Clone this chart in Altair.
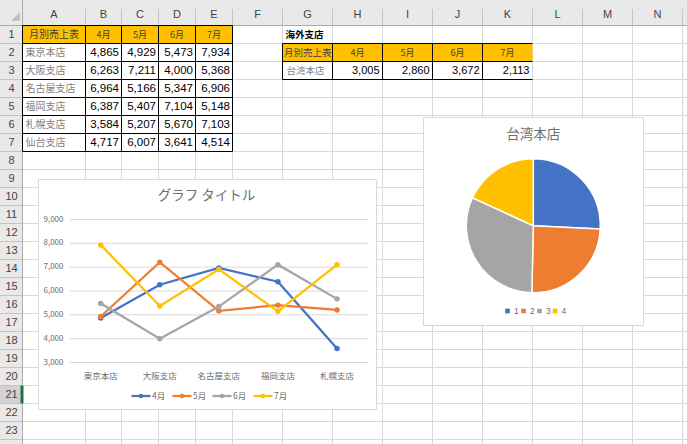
import altair as alt
import pandas as pd

# ---------------- data ----------------
col_letters = ["A", "B", "C", "D", "E", "F", "G", "H", "I", "J", "K", "L", "M", "N"]
table_title = "月別売上表"
months = ["4月", "5月", "6月", "7月"]
stores = ["東京本店", "大阪支店", "名古屋支店", "福岡支店", "札幌支店", "仙台支店"]
sales_apr = [4865, 6263, 6964, 6387, 3584, 4717]
sales_may = [4929, 7211, 5166, 5407, 5207, 6007]
sales_jun = [5473, 4000, 5347, 7104, 5670, 3641]
sales_jul = [7934, 5368, 6906, 5148, 7103, 4514]
overseas_title = "海外支店"
taiwan_store = "台湾本店"
taiwan_sales = [3005, 2860, 3672, 2113]
pie_labels = ["1", "2", "3", "4"]
line_title = "グラフ タイトル"
chart_stores = stores[:5]
y_ticks = [3000, 4000, 5000, 6000, 7000, 8000, 9000]
series_colors = ["#4472C4", "#ED7D31", "#A5A5A5", "#FFC000"]
series_values = [sales_apr, sales_may, sales_jun, sales_jul]

# ---------------- layout (pixels) ----------------
W, H = 687, 444
COL_X = [0, 22.5, 85.5, 121.5, 158.5, 195.5, 232.5, 282.5, 332.5, 382.5,
         432.5, 482.5, 532.5, 582.5, 632.5, 682.5]
HDR_H = 25.5
ROW_H = 18.0
N_ROWS = 24
FONT = "Noto Sans CJK JP"
GRID = "#D9D9D9"
HDR_BG = "#E9E9E9"
ORANGE = "#FFC000"
CHART_TEXT = "#6E6E6E"


def ry(r):
    return HDR_H + (r - 1) * ROW_H


def cl(c):
    return COL_X[c + 1]


def cr(c):
    return COL_X[c + 2]


def xq(f):
    return alt.X(f"{f}:Q", scale=None, axis=None)


def yq(f):
    return alt.Y(f"{f}:Q", scale=None, axis=None)


def rules(rows, **kw):
    df = pd.DataFrame(rows, columns=["x", "y", "x2", "y2"])
    return alt.Chart(df).mark_rule(**kw).encode(x=xq("x"), y=yq("y"), x2="x2:Q", y2="y2:Q")


def rects(rows, **kw):
    df = pd.DataFrame(rows, columns=["x", "y", "x2", "y2"])
    return alt.Chart(df).mark_rect(**kw).encode(x=xq("x"), y=yq("y"), x2="x2:Q", y2="y2:Q")


def texts(rows, **kw):
    df = pd.DataFrame(rows, columns=["x", "y", "t"])
    kw.setdefault("font", FONT)
    kw.setdefault("baseline", "middle")
    return alt.Chart(df).mark_text(**kw).encode(x=xq("x"), y=yq("y"), text="t:N")


layers = []

# ---- sheet background / headers ----
layers.append(rects([[0, 0, W, HDR_H], [0, HDR_H, COL_X[1], H]], color=HDR_BG))
layers.append(rects([[0, ry(21), COL_X[1], ry(22)]], color="#D2D2D2"))
# cell grid
vg = [[x, HDR_H, x, H] for x in COL_X[2:]]
hg = [[COL_X[1], ry(r), W, ry(r)] for r in range(2, N_ROWS + 1)]
layers.append(rules(vg + hg, color=GRID, strokeWidth=1))
# header separators
hs = [[x, 9, x, HDR_H] for x in COL_X[2:]]
rs = [[0, ry(r), COL_X[1], ry(r)] for r in range(2, N_ROWS + 1)]
layers.append(rules(hs + rs, color="#C4C4C4", strokeWidth=1))
layers.append(rules([[0, HDR_H, W, HDR_H], [COL_X[1], 0, COL_X[1], H]], color="#ABABAB", strokeWidth=1))
layers.append(rects([[20.5, ry(21), 23.5, ry(22)]], color="#217346"))
# corner triangle
layers.append(
    alt.Chart(pd.DataFrame({"x": [15.5], "y": [16.5]}))
    .mark_point(shape="M 1 -1 L 1 1 L -1 1 Z", filled=True, color="#BDBDBD", size=70, opacity=1)
    .encode(x=xq("x"), y=yq("y"))
)
# column letters & row numbers
layers.append(texts([[(cl(i) + cr(i)) / 2, 15, L] for i, L in enumerate(col_letters)],
                    fontSize=11, color="#444444", align="center", font="Liberation Sans"))
layers.append(texts([[11.5, ry(r) + 9.5, str(r)] for r in range(1, N_ROWS)],
                    fontSize=11, color="#444444", align="center", font="Liberation Sans"))

# ---- table 1 ----
layers.append(rects([[cl(0), ry(1), cr(4), ry(2)], [cl(6), ry(2), cr(10), ry(3)]], color=ORANGE))
b1 = [[cl(0), ry(r), cr(4), ry(r)] for r in range(1, 9)]
b1 += [[COL_X[c], ry(1), COL_X[c], ry(8)] for c in range(1, 7)]
b2 = [[cl(6), ry(r), cr(10), ry(r)] for r in range(2, 5)]
b2 += [[COL_X[c], ry(2), COL_X[c], ry(4)] for c in range(7, 12)]
layers.append(rules(b1 + b2, color="#000000", strokeWidth=1))

layers.append(texts([[(cl(0) + cr(0)) / 2, ry(1) + 9.5, table_title]],
                    fontSize=10, color="#3F3F3F", align="center"))
layers.append(texts([[(cl(i + 1) + cr(i + 1)) / 2, ry(1) + 9.5, m] for i, m in enumerate(months)],
                    fontSize=9, color="#3F3F3F", align="center"))
layers.append(texts([[cl(0) + 3, ry(i + 2) + 9.5, s] for i, s in enumerate(stores)],
                    fontSize=10, color="#7F7F7F", align="left"))
num_rows = []
for mi, vals in enumerate(series_values):
    for si, v in enumerate(vals):
        num_rows.append([cr(mi + 1) - 2.5, ry(si + 2) + 9.5, f"{v:,}"])
layers.append(texts(num_rows, fontSize=11.5, color="#000000", align="right", font="Liberation Sans"))

# ---- table 2 ----
layers.append(texts([[cl(6) + 3, ry(1) + 9.5, overseas_title]],
                    fontSize=9.5, color="#000000", align="left", fontWeight="bold"))
layers.append(texts([[cl(6) + 1.5, ry(2) + 9.5, table_title]],
                    fontSize=9.5, color="#3F3F3F", align="left"))
layers.append(texts([[(cl(7 + i) + cr(7 + i)) / 2, ry(2) + 9.5, m] for i, m in enumerate(months)],
                    fontSize=9, color="#3F3F3F", align="center"))
layers.append(texts([[cl(6) + 4, ry(3) + 9.5, taiwan_store]],
                    fontSize=9.5, color="#7F7F7F", align="left"))
layers.append(texts([[cr(7 + i) - 3, ry(3) + 9.5, f"{v:,}"] for i, v in enumerate(taiwan_sales)],
                    fontSize=11, color="#000000", align="right", font="Liberation Sans"))

# ---- chart boxes ----
layers.append(rects([[38.5, 179.5, 376.5, 409.5], [423.5, 117.5, 643.5, 325.5]],
                    fill="#FFFFFF", stroke="#D9D9D9", strokeWidth=1))

# ---- line chart ----
x_sc = alt.Scale(type="point", domain=chart_stores, range=[100.7, 337.0], padding=0)
y_sc = alt.Scale(domain=[3000, 9000], range=[362.5, 219.5], zero=False, nice=False)

tick_df = pd.DataFrame({"v": y_ticks})
layers.append(alt.Chart(tick_df).mark_rule(color="#D9D9D9", strokeWidth=1).encode(
    y=alt.Y("v:Q", scale=y_sc, axis=None), x=alt.value(70), x2=alt.value(368)))
layers.append(alt.Chart(tick_df).mark_text(align="right", baseline="middle", fontSize=8,
                                           color=CHART_TEXT, font=FONT).encode(
    y=alt.Y("v:Q", scale=y_sc, axis=None), x=alt.value(63.5), text=alt.Text("v:Q", format=",")))
layers.append(alt.Chart(pd.DataFrame({"s": chart_stores})).mark_text(
    baseline="middle", fontSize=8.5, color=CHART_TEXT, font=FONT).encode(
    x=alt.X("s:N", scale=x_sc, axis=None), y=alt.value(375.5), text="s:N"))

for mi, m in enumerate(months):
    df = pd.DataFrame({"store": chart_stores, "value": series_values[mi][:5]})
    enc = dict(x=alt.X("store:N", scale=x_sc, axis=None),
               y=alt.Y("value:Q", scale=y_sc, axis=None))
    layers.append(alt.Chart(df).mark_line(color=series_colors[mi], strokeWidth=2.25).encode(**enc))
    layers.append(alt.Chart(df).mark_circle(color=series_colors[mi], size=30, opacity=1).encode(**enc))

layers.append(texts([[206.5, 196, line_title]], fontSize=13.5, color=CHART_TEXT, align="center"))

# legend of line chart
leg_x = [131.5, 172.5, 212.5, 253.5]
leg_y = 396
for mi, m in enumerate(months):
    lx = leg_x[mi]
    layers.append(rules([[lx, leg_y, lx + 19, leg_y]], color=series_colors[mi], strokeWidth=2.25))
    layers.append(alt.Chart(pd.DataFrame({"x": [lx + 9.5], "y": [leg_y]})).mark_circle(
        color=series_colors[mi], size=22, opacity=1).encode(x=xq("x"), y=yq("y")))
    layers.append(texts([[lx + 20.5, leg_y, m]], fontSize=8.5, color=CHART_TEXT, align="left"))

# ---- pie chart ----
pie_df = pd.DataFrame({"label": pie_labels, "value": taiwan_sales, "k": list(range(len(pie_labels)))})
layers.append(alt.Chart(pie_df).mark_arc(outerRadius=67, stroke="#FFFFFF", strokeWidth=1.5).encode(
    theta=alt.Theta("value:Q", stack=True),
    color=alt.Color("label:N", scale=alt.Scale(domain=pie_labels, range=series_colors), legend=None),
    order=alt.Order("k:Q"),
    x=alt.value(533.3), y=alt.value(225.7)))
layers.append(texts([[533.3, 134.5, taiwan_store]], fontSize=13.5, color=CHART_TEXT, align="center"))

pl_x = [507.5, 523.5, 539.5, 555.0]
pl_y = 311
pleg = pd.DataFrame({"x": pl_x, "y": [pl_y] * 4, "c": series_colors})
layers.append(alt.Chart(pleg).mark_square(size=22, opacity=1).encode(
    x=xq("x"), y=yq("y"), color=alt.Color("c:N", scale=None, legend=None)))
layers.append(texts([[pl_x[i] + 6.5, pl_y, lab] for i, lab in enumerate(pie_labels)],
                    fontSize=8.5, color=CHART_TEXT, align="left", font="Liberation Sans"))

chart = alt.layer(*layers).resolve_scale(
    x="independent", y="independent", color="independent"
).properties(
    width=W, height=H, autosize=alt.AutoSizeParams(type="none"), padding=0,
    background="#FFFFFF",
).configure_view(stroke=None)

chart.save("out.html", embed_options={"renderer": "svg", "actions": False})
